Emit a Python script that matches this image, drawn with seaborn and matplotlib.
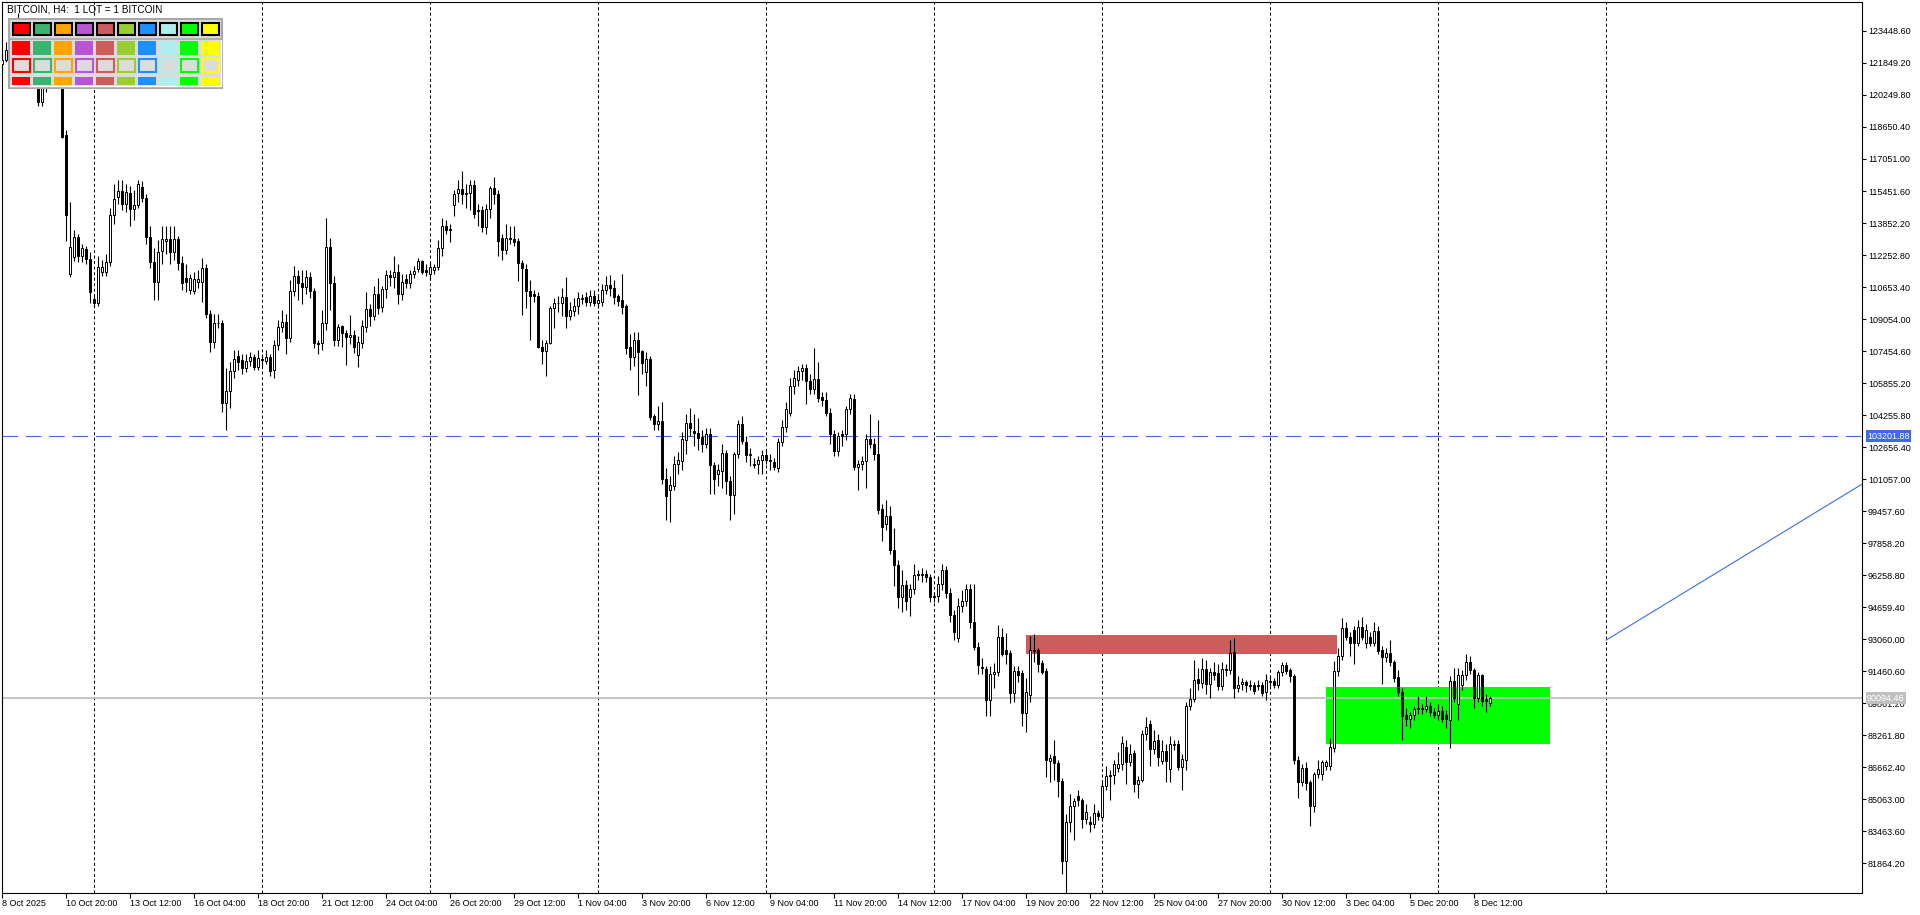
import matplotlib
matplotlib.use("Agg")
import numpy as np
import pandas as pd
import seaborn as sns
import matplotlib.pyplot as plt
from matplotlib.patches import Rectangle

# H4 candles, one row per bar (bar 0 = 8 Oct 2025 04:00)
open_ = [
    121800, 122000, 122500, 122300, 123000, 123600, 122800, 122100, 122600, 121400,
    119920, 120670, 121100, 121300, 121600, 121500, 118250, 111300, 112170, 113130,
    112220, 112550, 112050, 110050, 109830, 111420, 111420, 111880, 114250, 115170,
    115450, 114800, 115370, 114530, 114770, 115630, 115080, 113130, 111920, 110880,
    112450, 112970, 113030, 112380, 113030, 111830, 111080, 110500, 110470, 110920,
    110880, 111620, 109300, 107920, 108830, 108870, 104880, 105450, 106450, 107200,
    107000, 106580, 106970, 107130, 106670, 107000, 106970, 107130, 106500, 107750,
    108670, 108920, 108080, 110450, 111200, 110870, 110670, 111170, 110450, 107830,
    107830, 108870, 112670, 110870, 108000, 108700, 108330, 108130, 108250, 107250,
    107870, 108670, 109530, 109220, 110300, 109670, 110550, 111250, 111130, 111380,
    110280, 111030, 110830, 111280, 111550, 111950, 111500, 111280, 111500, 111670,
    112580, 113720, 113530, 114750, 115330, 115530, 115300, 115330, 115730, 114480,
    114500, 113630, 114530, 115580, 115300, 113080, 112500, 113080, 113030, 112950,
    111830, 111550, 110470, 110300, 110200, 107670, 107470, 107870, 109580, 109870,
    109830, 110130, 109220, 109470, 109700, 110030, 110130, 109920, 110200, 109830,
    109920, 110500, 110750, 110580, 110200, 110000, 109700, 107670, 107170, 108000,
    107470, 106420, 107030, 104200, 103800, 103950, 101080, 100530, 100720, 101800,
    101970, 103030, 103880, 103470, 103380, 103170, 102830, 103300, 101780, 101300,
    101470, 102380, 100980, 100250, 102290, 103800, 102930, 102290, 101820, 101820,
    102020, 102240, 102020, 101930, 101600, 102930, 103650, 104380, 105710, 106020,
    106480, 106600, 105970, 105570, 106080, 105150, 105020, 104380, 103290, 102470,
    103290, 103290, 104570, 105060, 101650, 101800, 101980, 103070, 102800, 102290,
    99560, 98800, 99200, 97500, 96740, 95140, 95740, 95140, 95560, 96320,
    96250, 96320, 96140, 95190, 95190, 95790, 96520, 95370, 94280, 93100,
    94700, 94970, 95560, 93920, 92680, 91680, 91560, 90020, 91300, 91390,
    93170, 92490, 92350, 90360, 91480, 91350, 89340, 90260, 92460, 92510,
    91870, 91450, 86970, 87220, 86840, 85960, 81950, 83930, 84690, 85200,
    84990, 84070, 83930, 83790, 84350, 84180, 85700, 86210, 86280, 86620,
    86820, 87650, 86890, 87360, 85790, 86010, 88290, 88790, 87560, 88020,
    86970, 87480, 86550, 87780, 87810, 86680, 87020, 89720, 90060, 91070,
    90860, 91580, 90800, 91400, 91360, 90720, 91560, 91530, 92410, 90600,
    90800, 90890, 90770, 90770, 90770, 90770, 90430, 90900, 90940, 90770,
    91400, 91750, 91500, 91190, 87020, 85900, 86630, 85910, 84720, 86330,
    86290, 86690, 86690, 87600, 91450, 92210, 93610, 93170, 93510, 92880,
    93640, 92880, 93170, 92880, 93470, 92490, 92160, 92380, 91900, 91140,
    90400, 89250, 89080, 89250, 89550, 89620, 89550, 89720, 89390, 89250,
    89470, 89280, 89000, 90940, 89790, 90770, 91280, 91920, 91500, 90130,
    91240, 90060, 89870,
]
high = [
    122300, 122920, 122700, 123200, 124350, 123900, 123200, 123000, 122800, 121700,
    120900, 121300, 121700, 121900, 121800, 121700, 118500, 114900, 113500, 113300,
    112800, 112700, 112400, 110300, 112200, 112000, 112300, 114600, 115800, 116000,
    116000, 115800, 115700, 115500, 116000, 115950, 115300, 113700, 112600, 113000,
    113700, 113700, 113700, 113700, 113200, 112200, 111800, 111300, 111400, 111500,
    112100, 111800, 109500, 109300, 109300, 109000, 106600, 106900, 107500, 107500,
    107300, 107300, 107400, 107300, 107500, 107300, 107500, 107300, 108000, 109000,
    109500, 109300, 111000, 111700, 111500, 111500, 111500, 111400, 110600, 108000,
    109500, 114100, 113100, 111200, 108800, 108750, 108500, 109250, 108500, 108200,
    109000, 110400, 109800, 110700, 111100, 110700, 111500, 111500, 112200, 111800,
    111300, 111300, 111500, 111700, 112100, 112000, 111800, 111900, 111800, 113000,
    114100, 114000, 113800, 115500, 116000, 116450, 115800, 116000, 116000, 114800,
    114700, 114800, 115700, 116150, 115500, 113300, 113800, 113700, 113700, 113100,
    112000, 111800, 111000, 110500, 110400, 108000, 108000, 109700, 110100, 110200,
    110600, 111150, 109900, 110100, 110400, 110300, 110400, 110500, 110500, 110300,
    110800, 111200, 111250, 111000, 110300, 111300, 109800, 108300, 108400, 108400,
    107500, 107400, 107200, 104300, 104700, 104900, 101600, 101200, 102200, 102400,
    103400, 104300, 104600, 104300, 104100, 103500, 103600, 103600, 101900, 101800,
    102800, 102500, 101200, 102400, 104000, 104200, 103200, 102600, 102100, 102200,
    102500, 102500, 102300, 102100, 103100, 104000, 104900, 106100, 106500, 106700,
    106800, 106800, 106300, 107600, 106900, 105400, 105400, 104600, 103500, 103400,
    103500, 104700, 105300, 105300, 102000, 102200, 103300, 104300, 103100, 104000,
    99800, 100000, 99700, 98600, 97000, 96500, 96000, 95800, 96800, 96500,
    96600, 96500, 96300, 95400, 96200, 96800, 96700, 95600, 94500, 95100,
    95500, 95800, 95800, 95800, 92900, 92100, 91700, 91700, 91850, 93780,
    93600, 93370, 92500, 91700, 91700, 91500, 91100, 93200, 93330, 92600,
    92000, 91600, 87300, 88000, 87000, 86100, 84300, 85300, 85100, 85500,
    85100, 84800, 84200, 84800, 84500, 85900, 86700, 86500, 87000, 87400,
    88200, 88000, 87800, 87500, 86200, 88500, 89150, 89000, 88500, 88300,
    88000, 87800, 88200, 88000, 88000, 87300, 89900, 90600, 92000, 91600,
    92100, 92000, 91600, 91900, 91800, 91900, 91800, 93000, 93120, 91200,
    91100, 91000, 91000, 90900, 91000, 90900, 91300, 91200, 91100, 91500,
    91900, 91900, 91600, 91300, 87200, 86800, 86900, 86000, 86400, 87000,
    87000, 87000, 88100, 91950, 92600, 94100, 93900, 93400, 93700, 94000,
    94150, 93800, 93400, 93900, 93700, 92700, 92600, 93000, 92000, 91500,
    90600, 89600, 89400, 89700, 90200, 89800, 90200, 89900, 89600, 89800,
    89700, 89500, 91200, 91600, 91600, 91500, 92300, 92200, 91600, 91400,
    91300, 90300, 90200,
]
low = [
    121500, 121920, 122200, 122100, 122800, 122600, 121900, 121800, 121200, 119700,
    119700, 120400, 121000, 121100, 121200, 118100, 112950, 111150, 111950, 111900,
    111900, 111800, 109850, 109700, 109700, 111200, 111200, 111700, 113800, 114800,
    114500, 114400, 113700, 114000, 114600, 114900, 112800, 111600, 110000, 110000,
    111800, 112300, 111800, 112000, 111500, 110500, 110400, 110300, 110300, 110600,
    109900, 109100, 107400, 107600, 108600, 104400, 103500, 104600, 106100, 106500,
    106300, 106400, 106700, 106500, 106500, 106700, 106800, 106200, 106100, 107500,
    108400, 107300, 107900, 110200, 110000, 109800, 110300, 110100, 107600, 107300,
    107500, 108500, 109500, 107700, 107700, 107670, 106750, 107800, 107330, 106670,
    107600, 108400, 108700, 109000, 109300, 109400, 110100, 110700, 110600, 109800,
    110000, 110600, 110600, 111100, 111400, 111300, 111200, 111000, 111300, 111500,
    112200, 113300, 112900, 114200, 114900, 114800, 114600, 114500, 114100, 113700,
    113400, 113300, 114100, 114800, 112200, 112000, 112300, 112800, 112700, 110950,
    109250, 109600, 108000, 109900, 107600, 106800, 106200, 107800, 108600, 109400,
    109200, 108600, 109000, 109200, 109300, 109800, 109700, 109700, 109700, 109600,
    109700, 110300, 110200, 109800, 109700, 109300, 107300, 106500, 106700, 105250,
    106300, 105700, 104000, 103500, 103500, 100800, 99000, 98900, 100500, 101300,
    101500, 102300, 103200, 102700, 102500, 102400, 102600, 100300, 100300, 100700,
    100600, 100300, 99000, 99300, 102100, 102800, 101900, 101700, 101600, 101300,
    101300, 101800, 101500, 101500, 101400, 102700, 103400, 104200, 105300, 105700,
    106000, 104800, 105300, 105300, 104900, 104700, 104200, 102800, 102200, 102200,
    102700, 103000, 104300, 101500, 100500, 101500, 100600, 102600, 102000, 99300,
    97970, 98500, 97300, 95700, 94600, 94400, 94500, 94200, 95300, 96000,
    95900, 95900, 94900, 94900, 94900, 95500, 95100, 93900, 93000, 92900,
    94400, 94700, 93600, 92500, 91300, 91300, 89200, 89200, 90600, 91200,
    92200, 91800, 89860, 89900, 90900, 88700, 88400, 89900, 91900, 91400,
    91300, 86150, 85900, 86000, 85150, 81300, 80380, 83400, 83000, 84700,
    83600, 83800, 83400, 83600, 84000, 84000, 85500, 85000, 85800, 86400,
    86500, 85800, 86700, 85400, 85100, 85900, 88000, 86700, 87300, 86700,
    86800, 85900, 85900, 87500, 86500, 85500, 86500, 89500, 89900, 90500,
    90600, 90300, 90100, 91000, 90500, 90500, 91200, 91300, 90100, 90400,
    90500, 90400, 90500, 90300, 90500, 90200, 90000, 90700, 90600, 90600,
    91200, 91300, 90900, 86800, 85100, 85700, 85500, 83700, 84400, 86100,
    86000, 86500, 86500, 87400, 91200, 92000, 93000, 92200, 91800, 92700,
    93000, 92600, 92700, 92700, 92300, 90800, 91900, 91700, 90900, 90200,
    88000, 88700, 88600, 89000, 89300, 89300, 89400, 89200, 89100, 89000,
    88900, 88600, 87600, 89900, 89000, 90500, 91000, 91300, 89600, 89900,
    89700, 89400, 89700,
]
close = [
    122000, 122500, 122300, 123000, 123600, 122800, 122100, 122600, 121400, 119920,
    120670, 121100, 121300, 121600, 121500, 118170, 114250, 112670, 113130, 112200,
    112580, 112030, 110420, 109830, 111670, 111670, 111880, 114250, 115030, 115450,
    114800, 115420, 114530, 114770, 115780, 115080, 113130, 111920, 110880, 112420,
    113030, 113070, 112380, 113030, 111830, 110830, 110920, 111080, 111030, 111030,
    111620, 109300, 107880, 108870, 108870, 104880, 105450, 106450, 107030, 106920,
    106580, 106970, 107130, 106670, 107080, 107030, 107170, 106470, 107750, 108670,
    108920, 108080, 110450, 111200, 110870, 110670, 111170, 110450, 107830, 107800,
    108870, 112670, 110830, 108000, 108670, 108330, 108130, 108250, 107670, 107920,
    108700, 109530, 109200, 110300, 109580, 110550, 111250, 111130, 111380, 110280,
    110880, 110830, 111280, 111450, 111950, 111420, 111420, 111670, 111670, 112580,
    113720, 113500, 113500, 115300, 115530, 115280, 115370, 115730, 114280, 114450,
    113630, 114530, 115580, 115280, 112970, 112500, 113080, 113030, 112920, 111830,
    111620, 110470, 110220, 110220, 107670, 107470, 107870, 109580, 109870, 109830,
    110130, 109220, 109500, 109700, 110080, 110120, 109920, 110200, 109830, 110000,
    110500, 110750, 110580, 110170, 109970, 109670, 107620, 107170, 108000, 107420,
    106870, 107030, 104170, 103800, 103950, 101080, 100200, 100750, 101830, 102000,
    103050, 103880, 103630, 103380, 103130, 102830, 103300, 101780, 101080, 101500,
    102380, 100980, 100250, 102290, 103800, 102980, 102240, 102240, 101780, 102020,
    102250, 102020, 101960, 101650, 102930, 103650, 104570, 105710, 106110, 106480,
    106600, 105970, 105570, 106080, 105110, 105020, 104380, 103290, 102470, 103200,
    103200, 104570, 105090, 101650, 101800, 101980, 103070, 102800, 102290, 99520,
    98650, 99230, 97500, 96740, 95140, 95740, 94950, 95560, 96280, 96250,
    96330, 96140, 95150, 95140, 95790, 96520, 95370, 94280, 93410, 94700,
    94970, 95560, 93920, 92680, 91770, 91590, 90020, 91300, 91390, 93170,
    92330, 92330, 90360, 91480, 91280, 89340, 90430, 92490, 92510, 91820,
    91410, 87020, 87090, 86840, 85960, 81950, 83930, 84690, 84940, 84990,
    84070, 84390, 83790, 84350, 84230, 85700, 86210, 86280, 86800, 86820,
    87870, 86890, 87310, 85790, 86010, 88290, 88660, 87560, 87980, 87140,
    87480, 86940, 87810, 87810, 86680, 87060, 89720, 90060, 91020, 90860,
    91580, 90800, 91400, 91280, 90720, 91560, 91530, 92380, 90600, 90770,
    90890, 90770, 90720, 90470, 90720, 90380, 91020, 90970, 90770, 91410,
    91750, 91450, 91190, 87020, 85900, 86630, 85870, 84720, 86330, 86550,
    86890, 86890, 87650, 91450, 92210, 93610, 93170, 92880, 92880, 93640,
    93140, 93510, 92880, 93470, 92460, 92160, 92380, 91900, 91110, 90400,
    89220, 89080, 89250, 89550, 89620, 89550, 89720, 89390, 89280, 89470,
    89050, 89050, 90940, 90130, 91280, 91280, 91920, 91500, 90130, 91240,
    89960, 89960, 90090,
]

price_ticks = [
    123448.60, 121849.20, 120249.80, 118650.40, 117051.00, 115451.60, 113852.20,
    112252.80, 110653.40, 109054.00, 107454.60, 105855.20, 104255.80, 102656.40,
    101057.00, 99457.60, 97858.20, 96258.80, 94659.40, 93060.00, 91460.60,
    89861.20, 88261.80, 86662.40, 85063.00, 83463.60, 81864.20,
]
time_label_bars = [0, 16, 32, 48, 64, 80, 96, 112, 128, 144, 160, 176, 192,
                   208, 224, 240, 256, 272, 288, 304, 320, 336, 352, 368]
time_labels = ["8 Oct 2025", "10 Oct 20:00", "13 Oct 12:00", "16 Oct 04:00",
               "18 Oct 20:00", "21 Oct 12:00", "24 Oct 04:00", "26 Oct 20:00",
               "29 Oct 12:00", "1 Nov 04:00", "3 Nov 20:00", "6 Nov 12:00",
               "9 Nov 04:00", "11 Nov 20:00", "14 Nov 12:00", "17 Nov 04:00",
               "19 Nov 20:00", "22 Nov 12:00", "25 Nov 04:00", "27 Nov 20:00",
               "30 Nov 12:00", "3 Dec 04:00", "5 Dec 20:00", "8 Dec 12:00"]
week_grid_bars = [23, 65, 107, 149, 191, 233, 275, 317, 359, 401]

ask_level = 103201.88
bid_level = 90094.46
# zones: (first bar, last bar, low price, high price)
supply_zone = (256, 333.75, 92330, 93250)
demand_zone = (331, 387, 87830, 90650)
trend_bars = [401, 465]
trend_prices = [93000, 100800]

panel_colors = ["#FF0000", "#3CB371", "#FFA500", "#BA55D3", "#CD5C5C",
                "#9ACD32", "#1E90FF", "#AFEEEE", "#00FF00", "#FFFF00"]

df = pd.DataFrame({"open": open_, "high": high, "low": low, "close": close})
df["bar"] = np.arange(len(df))
df["bull"] = df["close"] >= df["open"]
df["body_lo"] = df[["open", "close"]].min(axis=1)
df["body_h"] = (df["close"] - df["open"]).abs()

sns.set_theme(style="white", rc={"axes.edgecolor": "black", "axes.linewidth": 0.8})
plt.rcParams["font.family"] = ["Liberation Sans", "DejaVu Sans"]

W, H = 1920, 915
fig = plt.figure(figsize=(W / 100, H / 100), dpi=100)
fig.patch.set_facecolor("white")
ax = fig.add_axes([2 / W, 22 / H, 1860 / W, 891 / H])
ax.set_facecolor("white")

# background objects
for b in week_grid_bars:
    ax.axvline(b, color="black", lw=0.75, ls=(0, (2.9, 2.4)), zorder=0.5)
for (x0, x1, p0, p1), col in [(supply_zone, "#CD5C5C"), (demand_zone, "#00FF00")]:
    ax.add_patch(Rectangle((x0, p0), x1 - x0, p1 - p0, facecolor=col,
                           edgecolor="none", zorder=1))
ax.axhline(bid_level, color="#C0C0C0", lw=1.3, zorder=1.5)
ax.axhline(ask_level, color="#4169E1", lw=0.8, ls=(0, (14, 7)), zorder=1.5)
sns.lineplot(x=trend_bars, y=trend_prices, color="#3C6FE0", lw=0.8, ax=ax, zorder=1.5)

# candles
ax.vlines(df["bar"], df["low"], df["high"], color="black", lw=0.8, zorder=3)
ax.bar(df["bar"], df["body_h"], bottom=df["body_lo"], width=0.6,
       color=np.where(df["bull"], "white", "black"), edgecolor="black",
       linewidth=0.7, zorder=4)

ax.set_xlim(0, 465)
ax.set_ylim(80365, 124898)

for s in ax.spines.values():
    s.set_visible(True)
    s.set_color("black")
    s.set_linewidth(0.8)

ax.yaxis.tick_right()
ax.set_yticks(price_ticks, labels=[f"{v:.2f}" for v in price_ticks])
ax.set_xticks(time_label_bars, labels=time_labels)
for lbl in ax.get_xticklabels():
    lbl.set_horizontalalignment("left")
ax.tick_params(axis="y", right=True, left=False, labelright=True, labelleft=False,
               direction="out", length=3, width=0.8, pad=1.2, labelsize=6.5,
               colors="black")
ax.tick_params(axis="x", bottom=True, top=False, direction="out", length=3.5,
               width=0.8, pad=0.5, labelsize=6.5, colors="black")
ax.set_xlabel("")
ax.set_ylabel("")

xr = 1.0 + 5 / 1860
ax.text(xr, ask_level, f"{ask_level:.2f}", transform=ax.get_yaxis_transform(),
        ha="left", va="center", fontsize=6.5, color="white", clip_on=False, zorder=6,
        bbox=dict(boxstyle="square,pad=0.15", facecolor="#4169E1", edgecolor="none"))
ax.text(xr, bid_level, f"{bid_level:.2f}", transform=ax.get_yaxis_transform(),
        ha="left", va="center", fontsize=6.5, color="white", clip_on=False, zorder=6,
        bbox=dict(boxstyle="square,pad=0.15", facecolor="#C0C0C0", edgecolor="none"))

# overlay in pixel coordinates: title and colour panel
ov = fig.add_axes([0, 0, 1, 1])
ov.set_xlim(0, W)
ov.set_ylim(H, 0)
ov.axis("off")
ov.patch.set_visible(False)
ov.set_zorder(10)

ov.text(7, 9, "BITCOIN, H4:  1 LOT = 1 BITCOIN", fontsize=7.2, ha="left",
        va="center", color="black")

ov.add_patch(Rectangle((8.5, 18.5), 213.5, 69, facecolor="#DCDCDC",
                       edgecolor="#A8A8A8", lw=1.5))
ov.plot([9, 221], [38.5, 38.5], color="#A8A8A8", lw=1.2)
ov.plot([10, 221, 221], [86, 86, 40], color="white", lw=1.0)
for k, col in enumerate(panel_colors):
    x0 = 12 + 21 * k
    ov.add_patch(Rectangle((x0 + 0.5, 22.5), 17, 12.5, facecolor=col,
                           edgecolor="black", lw=1.5))
    ov.add_patch(Rectangle((x0, 41), 18, 14, facecolor=col, edgecolor="none"))
    ov.add_patch(Rectangle((x0 + 0.5, 58.5), 17, 13.5, facecolor="#DCDCDC",
                           edgecolor=col, lw=1.5))
    ov.add_patch(Rectangle((x0, 77), 18, 8, facecolor=col, edgecolor="none"))

fig.savefig("out.png", dpi=100)
